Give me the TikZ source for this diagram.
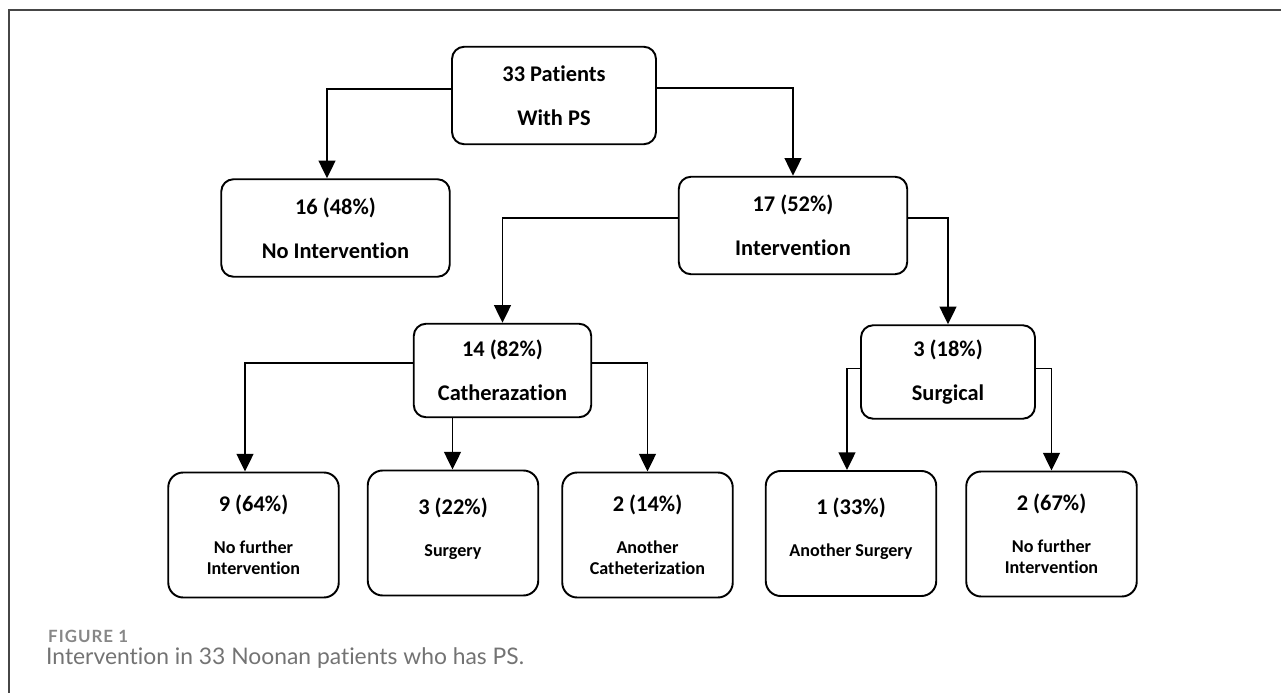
\documentclass[tikz,border=0pt]{standalone}
\usepackage{fontspec}
\setmainfont{Carlito}[Ligatures=NoCommon]
\newfontfamily\capfont{Lato}[Ligatures=NoCommon]
\newfontfamily\figfont{Lato}[Ligatures=NoCommon,LetterSpace=6]
\usetikzlibrary{arrows.meta,positioning}
\definecolor{framegray}{RGB}{70,70,70}
\definecolor{capgray}{RGB}{115,115,115}
\definecolor{figgray}{RGB}{135,135,135}
\newcommand{\headline}[1]{{\fontsize{12.75pt}{11.9pt}\selectfont #1}}

\begin{document}
\begin{tikzpicture}[
  every node/.style={font=\fontsize{12.75pt}{25pt}\selectfont\bfseries},
  topbox/.style={rectangle,draw,line width=1.1pt,rounded corners=7pt,align=center,
                 inner sep=0pt,minimum width=4.57cm,minimum height=1.95cm},
  midbox/.style={rectangle,draw,line width=1.1pt,rounded corners=7pt,align=center,
                 inner sep=0pt,minimum width=3.55cm,minimum height=1.87cm},
  leafbox/.style={rectangle,draw,line width=1.1pt,rounded corners=8.5pt,align=center,
                  inner sep=0pt,minimum width=3.41cm,minimum height=2.5cm,
                  font=\fontsize{10.3pt}{11.9pt}\selectfont\bfseries},
  arrow/.style={-{Triangle[length=10pt,width=9.5pt]},line width=1.1pt},
]
\useasboundingbox (0,0) rectangle (25.62,-13.86);

% Frame
\draw[framegray,line width=0.75pt] (25.62,-0.2) -- (0.18,-0.2) -- (0.18,-13.86);

% Root
\node[topbox,minimum width=4.08cm] (root) at (11.08,-1.91) {33 Patients\\With PS};

% First split
\node[topbox] (noint) at (6.71,-4.56) {16 (48\%)\\No Intervention};
\node[topbox] (inter) at (15.86,-4.51) {17 (52\%)\\Intervention};

% Intervention types
\node[midbox] (cath) at (10.05,-7.41) {14 (82\%)\\Catherazation};
\node[midbox,minimum width=3.48cm] (surg) at (18.96,-7.44) {3 (18\%)\\Surgical};

% Outcomes
\node[leafbox] (cnone) at (5.07,-10.70) {\headline{9 (64\%)}\\[12pt]No further\\Intervention};
\node[leafbox] (csurg) at (9.06,-10.66) {\headline{3 (22\%)}\\[12pt]Surgery\\[-5pt]\mbox{}};
\node[leafbox] (ccath) at (12.95,-10.70) {\headline{2 (14\%)}\\[12pt]Another\\Catheterization};
\node[leafbox] (ssurg) at (17.02,-10.67) {\headline{1 (33\%)}\\[12pt]Another Surgery\\[-5pt]\mbox{}};
\node[leafbox] (snone) at (21.03,-10.68) {\headline{2 (67\%)}\\[12pt]No further\\Intervention};

% Arrows
\draw[arrow] ([yshift=0.13cm]root.west) -| ([xshift=-0.17cm]noint.north);
\draw[arrow] ([yshift=0.15cm]root.east) -| (inter.north);
\draw[arrow] ([yshift=0.15cm]inter.west) -| (cath.north);
\draw[arrow] ([yshift=0.15cm]inter.east) -| (surg.north);
\draw[arrow] ([yshift=0.15cm]cath.west) -| ([xshift=-0.17cm]cnone.north);
\draw[arrow] ([xshift=-1cm]cath.south) -- ([xshift=-1cm]cath.south |- csurg.north);
\draw[arrow] ([yshift=0.15cm]cath.east) -| (ccath.north);
\draw[arrow] ([yshift=0.07cm]surg.west) -| ([xshift=-0.08cm]ssurg.north);
\draw[arrow] ([yshift=0.07cm]surg.east) -| (snone.north);

% Caption
\node[font=\figfont\bfseries\fontsize{9.6pt}{11pt}\selectfont,figgray,anchor=west]
  (fig) at (0.84,-12.72) {FIGURE 1};
\node[font=\capfont\fontsize{13pt}{15pt}\selectfont,capgray,anchor=west]
  (cap) at (0.80,-13.16) {Intervention in 33 Noonan patients who has PS.};

\end{tikzpicture}
\end{document}
